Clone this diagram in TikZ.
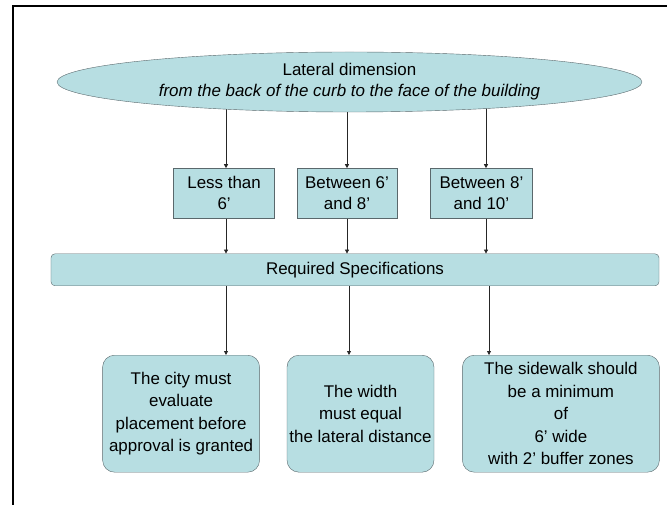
\documentclass[tikz,border=0pt]{standalone}
\usepackage{fontspec}
\setmainfont{Liberation Sans}
\usepackage{xcolor}
\usepackage{tikz}
\usetikzlibrary{shapes.geometric, arrows.meta, positioning, backgrounds}

\definecolor{paleteal}{RGB}{183,222,226}
\definecolor{edgegray}{RGB}{90,104,108}

\begin{document}
\begin{tikzpicture}[
        x=1bp, y=-1bp,
        every node/.style={font=\fontsize{17}{21}\selectfont},
        oval/.style={ellipse, draw=edgegray, thin, fill=paleteal, minimum width=585bp, minimum height=60bp, inner sep=0pt, align=center},
        rangebox/.style={rectangle, draw=edgegray, thin, fill=paleteal, minimum height=50bp, inner sep=0pt, align=center},
        specbar/.style={rectangle, draw=edgegray, thin, fill=paleteal, rounded corners=4bp, minimum width=608bp, minimum height=32bp, inner sep=0pt},
        rulebox/.style={rectangle, draw=edgegray, thin, fill=paleteal, rounded corners=12bp, minimum height=117bp, inner sep=0pt, align=center, font=\fontsize{17}{22.5}\selectfont},
        arrow/.style={draw=black!85, line width=0.8bp, -{Triangle[length=4bp, width=4bp]}}
    ]
    \useasboundingbox (0,0) rectangle (667,505);

    % Frame
    \draw [line width=2bp] (12.5,505) -- (12.5,6.5) -- (667,6.5);

    % Nodes
    \node (lat) [oval] at (349.5,82) {Lateral dimension\\ \textit{from the back of the curb to the face of the building}};
    \node (b2) [rangebox, minimum width=100bp, below=56bp of lat, xshift=-2.5bp] {Between 6'\\ and 8'};
    \node (b1) [rangebox, minimum width=101bp, left=22bp of b2] {Less than\\ 6'};
    \node (b3) [rangebox, minimum width=102bp, right=33bp of b2] {Between 8'\\ and 10'};
    \node (req) [specbar, below=35bp of b2, xshift=8bp] {Required Specifications};
    \node (c2) [rulebox, minimum width=147bp, below=69bp of req, xshift=5.5bp] {The width\\ must equal\\ the lateral distance};
    \node (c1) [rulebox, minimum width=157bp, left=27bp of c2] {The city must\\ evaluate\\ placement before\\ approval is granted};
    \node (c3) [rulebox, minimum width=197bp, right=28bp of c2] {The sidewalk should\\ be a minimum\\ of\\ 6' wide\\ with 2' buffer zones};

    \coordinate (u1) at (226,0);
    \coordinate (u2) at (347,0);
    \coordinate (u3) at (486,0);
    \coordinate (v1) at (226,0);
    \coordinate (v2) at (349,0);
    \coordinate (v3) at (489,0);

    % Arrows
    \begin{pgfonlayer}{background}
    \draw [arrow] (lat.center -| u1) -- (b1.north -| u1);
    \draw [arrow] (lat.center -| u2) -- (b2.north -| u2);
    \draw [arrow] (lat.center -| u3) -- (b3.north -| u3);
    \end{pgfonlayer}
    \draw [arrow] (b1.south -| u1) -- (req.north -| u1);
    \draw [arrow] (b2.south -| u2) -- (req.north -| u2);
    \draw [arrow] (b3.south -| u3) -- (req.north -| u3);
    \draw [arrow] (req.south -| v1) -- (c1.north -| v1);
    \draw [arrow] (req.south -| v2) -- (c2.north -| v2);
    \draw [arrow] (req.south -| v3) -- (c3.north -| v3);

\end{tikzpicture}
\end{document}
